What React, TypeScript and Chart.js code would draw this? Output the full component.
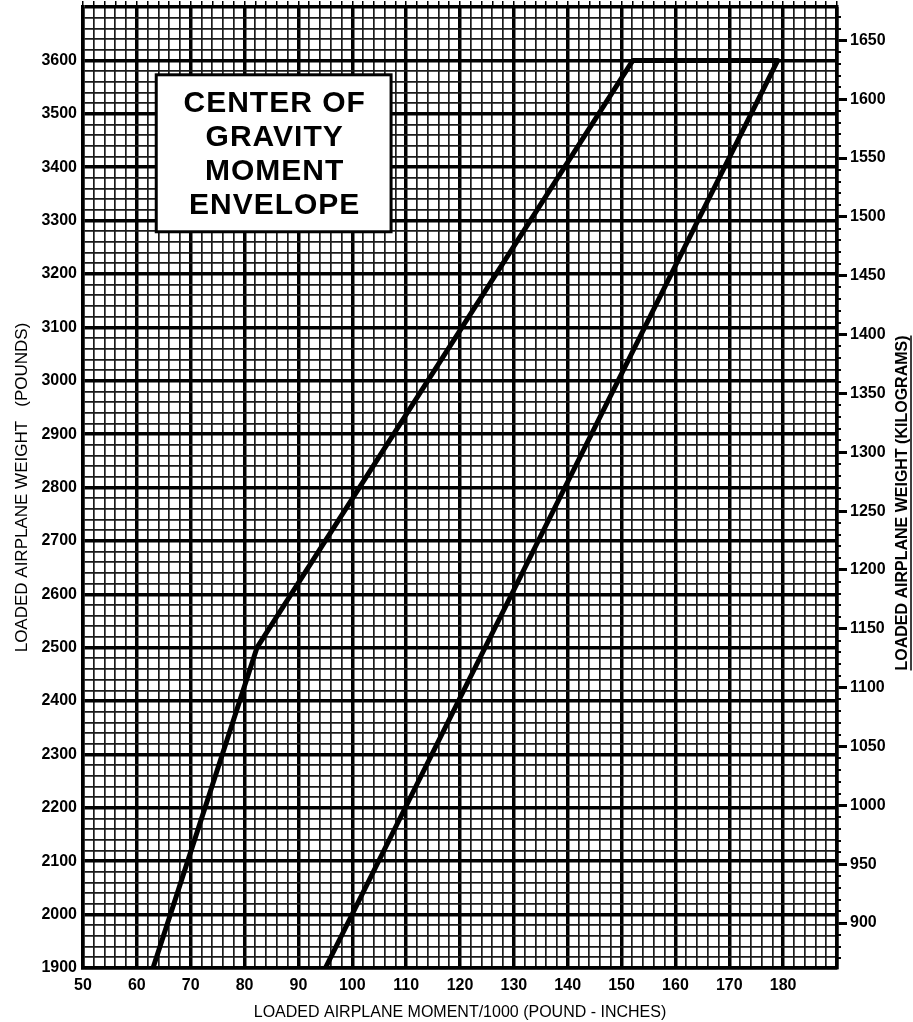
import React, { useEffect, useRef } from 'react';
import { Chart, registerables } from 'chart.js';

Chart.register(...registerables);

const FONT = "'Liberation Sans', Arial, Helvetica, sans-serif";

// ---- Axis ranges ----
const momentMin = 50;
const momentMax = 190;
const weightMinLb = 1900;
const weightMaxLb = 3700;
const LB_PER_KG = 2.20462;

// ---- Tick labels ----
const momentTickLabels = [50, 60, 70, 80, 90, 100, 110, 120, 130, 140, 150, 160, 170, 180];
const weightTickLabels = [1900, 2000, 2100, 2200, 2300, 2400, 2500, 2600, 2700, 2800, 2900, 3000, 3100, 3200, 3300, 3400, 3500, 3600];
const kgTickLabels = [900, 950, 1000, 1050, 1100, 1150, 1200, 1250, 1300, 1350, 1400, 1450, 1500, 1550, 1600, 1650];

// ---- Envelope (moment/1000 lb-in, weight lb) ----
const envelopeMoment = [63.0, 82.3, 152.1, 179.0, 95.0];
const envelopeWeight = [1900, 2500, 3600, 3600, 1900];

// ---- Texts ----
const boxLines = ['CENTER OF', 'GRAVITY', 'MOMENT', 'ENVELOPE'];
const xTitle = 'LOADED AIRPLANE MOMENT/1000 (POUND - INCHES)';
const yTitle = 'LOADED AIRPLANE WEIGHT   (POUNDS)';
const y2Title = 'LOADED AIRPLANE WEIGHT (KILOGRAMS)';

// Title box anchor in data coordinates (moment, weight)
const boxCorners = { left: 63.6, right: 107.2, top: 3573, bottom: 3279 };

const boxPlugin = {
  id: 'cgBox',
  afterDatasetsDraw(chart: any) {
    const { ctx, scales } = chart;
    const x = scales.x;
    const y = scales.y;
    const l = x.getPixelForValue(boxCorners.left);
    const r = x.getPixelForValue(boxCorners.right);
    const t = y.getPixelForValue(boxCorners.top);
    const b = y.getPixelForValue(boxCorners.bottom);
    ctx.save();
    ctx.fillStyle = '#fff';
    ctx.fillRect(l, t, r - l, b - t);
    ctx.strokeStyle = '#000';
    ctx.lineWidth = 3;
    ctx.strokeRect(l, t, r - l, b - t);
    ctx.fillStyle = '#000';
    ctx.font = `bold 30px ${FONT}`;
    try { (ctx as any).letterSpacing = '1px'; } catch (e) {}
    ctx.textAlign = 'center';
    ctx.textBaseline = 'middle';
    const cx = (l + r) / 2;
    boxLines.forEach((line, i) => {
      ctx.fillText(line, cx + 1, t + 29 + i * 34);
    });
    ctx.restore();
  },
};

const rightAxisPlugin = {
  id: 'rightAxisExtras',
  afterDraw(chart: any) {
    const { ctx, chartArea } = chart;
    const y2 = chart.scales.y2;
    ctx.save();
    // minor tick marks every 10 kg
    ctx.strokeStyle = '#000';
    ctx.lineWidth = 2;
    for (let kg = 870; kg <= 1670; kg += 10) {
      if (kg % 50 === 0) continue;
      const py = Math.round(y2.getPixelForValue(kg));
      ctx.beginPath();
      ctx.moveTo(chartArea.right, py);
      ctx.lineTo(chartArea.right + 4, py);
      ctx.stroke();
    }
    // rotated underlined title
    ctx.translate(903, 503);
    ctx.rotate(-Math.PI / 2);
    ctx.font = `bold 16px ${FONT}`;
    ctx.fillStyle = '#000';
    ctx.textAlign = 'center';
    ctx.textBaseline = 'middle';
    ctx.fillText(y2Title, 0, 0);
    const w = ctx.measureText(y2Title).width;
    ctx.lineWidth = 1.5;
    ctx.beginPath();
    ctx.moveTo(-w / 2, 8);
    ctx.lineTo(w / 2, 8);
    ctx.stroke();
    ctx.restore();
  },
};

export default function App() {
  const canvasRef = useRef<HTMLCanvasElement | null>(null);

  useEffect(() => {
    if (!canvasRef.current) return;
    const tickFont = { family: FONT, size: 16, weight: 'bold' as const };
    const chart = new Chart(canvasRef.current, {
      type: 'scatter',
      data: {
        datasets: [
          {
            data: envelopeMoment.map((m, i) => ({ x: m, y: envelopeWeight[i] })),
            showLine: true,
            borderColor: '#000',
            borderWidth: 5,
            pointRadius: 0,
            fill: false,
            tension: 0,
            borderJoinStyle: 'round',
            borderCapStyle: 'round',
          } as any,
        ],
      },
      options: {
        animation: false,
        responsive: false,
        devicePixelRatio: 1,
        layout: { padding: 0 },
        plugins: { legend: { display: false }, tooltip: { enabled: false } },
        scales: {
          x: {
            type: 'linear',
            position: 'bottom',
            min: momentMin,
            max: momentMax,
            ticks: {
              stepSize: 2,
              autoSkip: false,
              maxRotation: 0,
              minRotation: 0,
              padding: 8,
              color: '#000',
              font: tickFont,
              callback: (v: any) => (momentTickLabels.includes(Number(v)) ? String(v) : ''),
            },
            grid: {
              color: (c: any) => (c.tick && c.tick.value % 10 === 0 ? '#000' : '#1a1a1a'),
              lineWidth: (c: any) => (c.tick && c.tick.value % 10 === 0 ? 3.5 : 1.7),
              drawTicks: false,
            },
            border: { display: true, color: '#000', width: 3.5 },
            title: {
              display: true,
              text: xTitle,
              color: '#000',
              font: { family: FONT, size: 16 },
              padding: { top: 0, bottom: 0 },
            },
            afterFit: (s: any) => {
              s.height = 54;
              s.paddingLeft = 0;
              s.paddingRight = 0;
            },
          } as any,
          x2: {
            type: 'linear',
            position: 'top',
            min: momentMin,
            max: momentMax,
            ticks: { stepSize: 2, display: false, autoSkip: false },
            grid: { drawOnChartArea: false, drawTicks: true, tickLength: 6, color: '#000', lineWidth: 1.5 },
            border: { display: false },
            afterFit: (s: any) => {
              s.height = 7;
              s.paddingLeft = 0;
              s.paddingRight = 0;
            },
          } as any,
          y: {
            type: 'linear',
            position: 'left',
            min: weightMinLb,
            max: weightMaxLb,
            ticks: {
              stepSize: 20,
              autoSkip: false,
              padding: 6,
              color: '#000',
              font: tickFont,
              callback: (v: any) => (weightTickLabels.includes(Number(v)) ? String(v) : ''),
            },
            grid: {
              color: (c: any) => (c.tick && c.tick.value % 100 === 0 ? '#000' : '#1a1a1a'),
              lineWidth: (c: any) => (c.tick && c.tick.value % 100 === 0 ? 3.5 : 1.7),
              drawTicks: false,
            },
            border: { display: true, color: '#000', width: 3.5 },
            title: {
              display: true,
              text: yTitle,
              color: '#000',
              font: { family: FONT, size: 17 },
              padding: { top: 12, bottom: 0 },
            },
            afterFit: (s: any) => {
              s.width = 83;
              s.paddingTop = 0;
              s.paddingBottom = 0;
            },
          } as any,
          y2: {
            type: 'linear',
            position: 'right',
            min: weightMinLb / LB_PER_KG,
            max: weightMaxLb / LB_PER_KG,
            ticks: {
              stepSize: 10,
              autoSkip: false,
              includeBounds: false,
              padding: 3,
              color: '#000',
              font: tickFont,
              callback: (v: any) => (kgTickLabels.includes(Number(v)) ? String(v) : ''),
            },
            grid: {
              drawOnChartArea: false,
              drawTicks: true,
              tickLength: 10,
              tickWidth: 3,
              tickColor: (c: any) => (c.tick && c.tick.value % 50 === 0 ? '#000' : 'rgba(0,0,0,0)'),
            },
            border: { display: true, color: '#000', width: 3.5 },
            afterFit: (s: any) => {
              s.width = 76;
              s.paddingTop = 0;
              s.paddingBottom = 0;
            },
          } as any,
        },
      },
      plugins: [boxPlugin, rightAxisPlugin],
    });
    return () => chart.destroy();
  }, []);

  return (
    <div style={{ position: 'absolute', left: 0, top: 0, width: 913, height: 1022, background: '#fff' }}>
      <canvas ref={canvasRef} width={913} height={1022} style={{ display: 'block' }} />
    </div>
  );
}
